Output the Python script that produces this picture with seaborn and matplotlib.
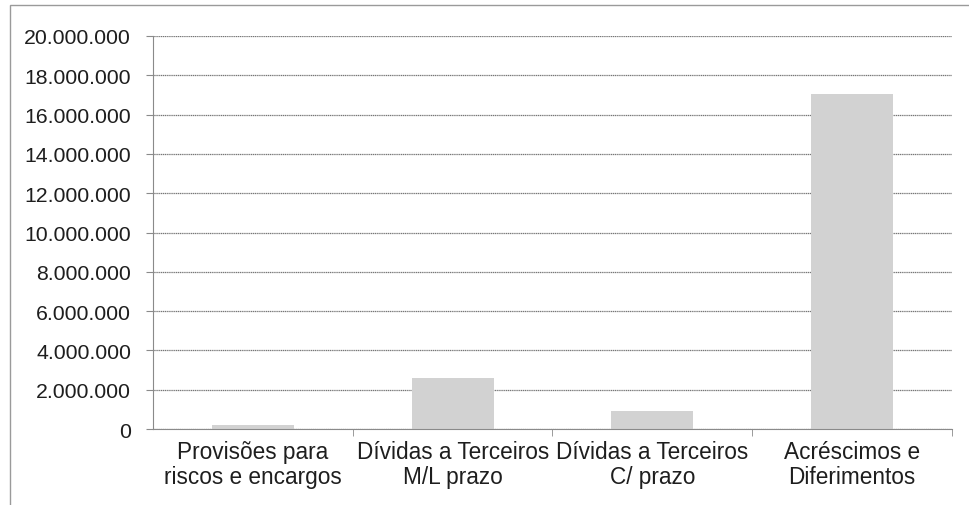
import matplotlib
matplotlib.use("Agg")
import matplotlib.pyplot as plt
import matplotlib.patches as mpatches
from matplotlib.ticker import FuncFormatter
import seaborn as sns
import pandas as pd

categories = ["Provisões para\nriscos e encargos",
              "Dívidas a Terceiros\nM/L prazo",
              "Dívidas a Terceiros\nC/ prazo",
              "Acréscimos e\nDiferimentos"]
values = [200000, 2600000, 900000, 17050000]
yticks = list(range(0, 20000001, 2000000))

df = pd.DataFrame({"cat": categories, "val": values})

sns.set_style("white")
plt.rcParams['font.family'] = ['Liberation Sans', 'DejaVu Sans']

fig = plt.figure(figsize=(9.7, 5.06), dpi=100)
ax = fig.add_axes([0.158, 0.150, 0.823, 0.777])

sns.barplot(data=df, x="cat", y="val", color="#d2d2d2", width=0.41,
            saturation=1, edgecolor="none", ax=ax)

ax.set_ylim(0, 20000000)
ax.set_xlim(-0.5, 3.5)
ax.set_yticks(yticks)
ax.yaxis.set_major_formatter(FuncFormatter(lambda v, p: f"{int(v):,}".replace(",", ".")))
ax.grid(axis="y", color="#777777", linewidth=0.9, linestyle=(0, (1, 0.5)))
ax.set_axisbelow(True)
ax.set_xlabel("")
ax.set_ylabel("")

for s in ["top", "right"]:
    ax.spines[s].set_visible(False)
for s in ["left", "bottom"]:
    ax.spines[s].set_color("#8a8a8a")
    ax.spines[s].set_linewidth(0.8)

ax.tick_params(axis="y", length=5, color="#8a8a8a", labelsize=15.3, labelcolor="#1e1e1e", pad=11, left=True)
ax.tick_params(axis="x", which="major", length=0, labelsize=16.3, labelcolor="#1e1e1e", pad=8)
ax.set_xticks([0.5, 1.5, 2.5, 3.5], minor=True)
ax.tick_params(axis="x", which="minor", length=5, color="#8a8a8a", bottom=True)
for lbl in ax.get_xticklabels():
    lbl.set_linespacing(1.1)

# outer chart border
fig.patches.append(mpatches.Rectangle((10 / 970, -0.05), 1.0, 1 - 6 / 506 + 0.05,
                                      transform=fig.transFigure, fill=False,
                                      edgecolor="#9a9a9a", linewidth=1.0))

fig.savefig("out.png", dpi=100)
